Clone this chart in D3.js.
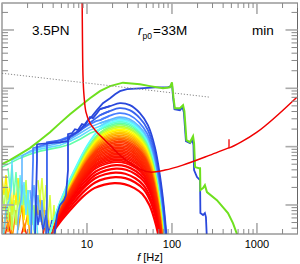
<!DOCTYPE html>
<html>
<head>
<meta charset="utf-8">
<script src="https://cdn.jsdelivr.net/npm/d3@7"></script>
<style>
body { margin: 0; background: #fff; }
svg { display: block; font-family: "Liberation Sans", Arial, sans-serif; }
</style>
</head>
<body>
<svg id="chart" width="300" height="264"></svg>
<script>
// strain in units of 1e-22, frequency in Hz

// detector noise curve
const noiseF = [8.74, 8.85, 8.97, 9.22, 9.73, 10.85, 13.1, 16.3, 19.7, 24.4, 32.1, 42.0, 55.1, 82.7, 134, 280, 456, 481, 1000, 2950]
const noiseH = [710, 66.7, 16.8, 7.6, 3.9, 2.53, 1.77, 1.29, 0.98, 0.715, 0.522, 0.412, 0.366, 0.396, 0.482, 0.715, 0.943, 0.96, 1.77, 7.04]
// narrow line feature on the noise curve
const lineF = [469, 469]
const lineH = [0.95, 1.34]

// total signal (green)
const totalF = [1.0, 1.24, 1.63, 2.13, 2.80, 3.67, 4.81, 6.31, 8.27, 10.85, 14.2, 18.7, 26.5, 42.0, 55.1, 78.4, 94.7, 100, 104, 108,
    124, 135, 140, 148, 163, 177, 182, 187, 208, 214, 216, 232, 244, 258, 338, 456, 522, 582, 631]
const totalH = [0.502, 0.587, 0.744, 0.943, 1.29, 1.77, 2.53, 3.60, 4.94, 6.77, 8.92, 10.9, 12.5, 11.7, 10.9, 10.0, 10.4, 12.7, 7.04, 4.56,
    4.56, 5.13, 4.05, 1.29, 1.19, 1.51, 1.15, 0.446, 0.428, 0.428, 0.180, 0.195, 0.219, 0.166, 0.121, 0.0726, 0.049, 0.0318, 0.025]

// outermost blue spectrum
const outerF = [2.44, 2.51, 2.58, 2.58, 3.67, 4.81, 5.98, 6.31, 7.22, 8.27, 9.47, 10.3, 11.5, 13.1, 15.4, 18.7, 21.4, 24.4, 29.6, 42.0,
    63.1, 89.7, 97.3, 100, 103, 107, 124, 133, 138, 146, 163, 174, 179, 182, 197, 214, 216, 232, 244, 251, 258]
const outerH = [0.025, 0.121, 0.587, 1.10, 1.15, 1.19, 1.24, 1.51, 1.70, 1.92, 2.43, 2.84, 3.33, 4.22, 5.56, 6.77, 7.93, 8.92, 9.65, 10.0,
    10.4, 10.4, 10.9, 12.2, 7.04, 4.39, 4.22, 4.75, 3.90, 1.24, 1.15, 1.29, 1.06, 0.396, 0.301, 0.267, 0.0727, 0.0672, 0.0727, 0.062, 0.025]

// dotted reference line
const dotF = [1, 280]
const dotH = [18.1, 7.04]

// hump shape of the lowest spectrum, relative to its peak
const shapeF = [0.0666, 0.0873, 0.1145, 0.150, 0.1865, 0.2254, 0.2955, 0.4203, 0.5817, 0.7627, 1,
    1.311, 1.719, 2.135, 2.581, 2.955, 3.293, 3.670, 4.090, 4.560, 5.081]
const shapeH = [0.00123, 0.00724, 0.0288, 0.0771, 0.139, 0.2066, 0.3316, 0.5758, 0.8210, 0.9425, 1,
    0.9614, 0.8210, 0.6480, 0.4201, 0.2417, 0.1287, 0.0520, 0.01593, 0.00401, 0.000828]

// peak of every spectrum, from the lowest (red) to the highest (blue)
const peakF = [21, 21.5, 21.5, 22, 22,
    22, 22, 22, 22.3, 22.3, 22.3, 22.5, 22.5, 22.5, 22.7, 22.7, 22.7, 23, 23, 23, 23, 23.2, 23.2, 23.2, 23.4, 23.4, 23.4,
    23.6, 23.6, 23.6, 23.8, 23.8, 23.8, 24, 24, 24,
    24, 24.2, 24.4]
const peakH = [0.237, 0.301, 0.359, 0.420, 0.482,
    0.543, 0.575, 0.611, 0.648, 0.688, 0.730, 0.774, 0.821, 0.871, 0.924, 0.980, 1.04, 1.10, 1.17, 1.24, 1.32, 1.40, 1.48, 1.57, 1.67,
    1.77, 1.88, 1.99, 2.12, 2.24, 2.38, 2.53, 2.68, 2.84, 3.02, 3.20,
    3.75, 4.56, 5.56]

// stepped low frequency tails of the upper spectra [f, h]
const tailB = [[4.09, 0.025], [4.44, 0.0672], [4.81, 0.0996], [5.36, 0.121], [5.66, 0.148], [5.98, 0.396], [5.98, 1.64], [6.66, 1.70],
    [7.22, 1.99], [7.84, 1.92], [8.73, 2.43], [9.47, 2.33], [10.85, 3.20], [11.77, 3.08], [13.1, 3.75], [14.2, 4.39]]
const tailC = [[3.29, 0.025], [3.38, 0.121], [3.38, 1.19], [4.20, 1.24], [5.08, 1.29], [5.98, 1.40], [6.66, 1.51], [7.84, 1.77],
    [8.97, 2.07], [10.28, 2.43], [11.45, 2.73], [12.76, 3.08], [14.2, 3.46]]
const tailD = [[2.19, 0.025], [2.25, 0.121], [2.32, 0.587], [2.32, 0.943], [2.80, 1.02], [3.67, 1.15], [4.81, 1.29], [6.31, 1.51],
    [8.27, 1.92], [10.28, 2.33], [12.76, 2.73], [14.2, 2.84]]
const tailE = [[1.50, 0.025], [1.585, 0.0818], [1.673, 0.121], [1.719, 0.180], [1.719, 0.688], [2.135, 0.838], [2.80, 0.980],
    [3.67, 1.06], [4.81, 1.15], [6.31, 1.34], [8.27, 1.70], [10.85, 2.16], [14.2, 2.53]]
const tailF = [[1.027, 0.025], [1.115, 0.0818], [1.209, 0.121], [1.276, 0.180], [1.311, 0.325], [1.311, 0.587], [1.628, 0.688],
    [2.135, 0.805], [2.80, 0.906], [3.67, 0.980], [4.81, 1.06], [6.31, 1.24], [8.27, 1.51], [10.85, 1.92], [14.2, 2.24]]
const tailG = [[1.0, 0.446], [1.242, 0.522], [1.628, 0.635], [2.135, 0.744], [2.80, 0.838], [3.67, 0.906], [4.81, 0.980],
    [6.31, 1.10], [8.27, 1.34], [10.85, 1.70], [14.2, 1.99]]
const tails = {38: tailB, 37: tailC, 36: tailD, 35: tailE, 34: tailF, 31: tailG}

// noisy low frequency parts of the middle spectra [f, h]
const jagYellow = [[1.00, 0.289], [1.056, 0.148], [1.115, 0.325], [1.177, 0.121], [1.242, 0.247], [1.311, 0.0672], [1.384, 0.219],
    [1.461, 0.0996], [1.543, 0.289], [1.628, 0.0818], [1.719, 0.180], [1.815, 0.0551], [1.916, 0.148], [2.022, 0.0453], [2.135, 0.0996], [2.254, 0.025]]
const jagLime = [[1.00, 0.180], [1.056, 0.0818], [1.115, 0.219], [1.177, 0.0551], [1.242, 0.148], [1.311, 0.0372], [1.384, 0.121],
    [1.461, 0.0453], [1.543, 0.148], [1.628, 0.0672], [1.719, 0.219], [1.815, 0.0996], [1.916, 0.267], [2.022, 0.0672], [2.135, 0.121],
    [2.254, 0.0453], [2.379, 0.0996], [2.512, 0.025]]
const jagOrange = [[1.00, 0.0672], [1.056, 0.025], [1.115, 0.0996], [1.177, 0.0343], [1.242, 0.0755], [1.311, 0.025], [1.461, 0.0818],
    [1.543, 0.0372], [1.719, 0.0996], [1.815, 0.0343], [2.022, 0.0755], [2.135, 0.025]]
const jagCyan = [[1.628, 0.325], [1.719, 0.121], [1.815, 0.247], [1.916, 0.0672], [2.022, 0.180], [2.135, 0.0453], [2.254, 0.121],
    [2.379, 0.0372], [2.512, 0.0818], [2.652, 0.025]]
const jagAqua = [[1.177, 0.428], [1.242, 0.195], [1.311, 0.482], [1.384, 0.148], [1.461, 0.366], [1.543, 0.121], [1.628, 0.289],
    [1.719, 0.0996], [1.815, 0.219], [1.916, 0.0755], [2.022, 0.180], [2.135, 0.0551], [2.254, 0.121], [2.379, 0.0372], [2.512, 0.025]]
const jagAmber = [[2.512, 0.148], [2.652, 0.0672], [2.799, 0.180], [2.955, 0.0453], [3.12, 0.121], [3.29, 0.0318], [3.48, 0.0755], [3.67, 0.025]]
const jagChartreuse = [[2.652, 0.267], [2.799, 0.121], [2.955, 0.289], [3.12, 0.0818], [3.29, 0.219], [3.48, 0.0551], [3.67, 0.148],
    [3.87, 0.0372], [4.09, 0.0996], [4.32, 0.025]]
const jagSky = [[2.135, 0.180], [2.254, 0.0818], [2.379, 0.219], [2.512, 0.0672], [2.652, 0.148], [2.799, 0.0509], [2.955, 0.121],
    [3.12, 0.0402], [3.29, 0.0818], [3.48, 0.025]]
const jagBlue = [[2.512, 0.0996], [2.652, 0.0453], [2.799, 0.0818], [3.037, 0.0372], [3.29, 0.0672], [3.57, 0.0318], [3.87, 0.0551], [4.203, 0.025]]
const jagRed = [[1.056, 0.025], [1.177, 0.0509], [1.311, 0.025], [1.628, 0.025], [1.815, 0.0453], [2.022, 0.025], [2.955, 0.025],
    [3.29, 0.0551], [3.67, 0.025]]

const xLabels = [10, 100, 1000]

// ---------------------------------------------------------------
const svg = d3.select("#chart")
const plot = {left: 2, right: 297.5, top: 3, bottom: 234}

const x = d3.scaleLog().domain([1, 3000]).range([plot.left, plot.right])
const y = d3.scaleLog().domain([0.0318, 290]).range([plot.bottom, plot.top])

svg.append("defs").append("clipPath").attr("id", "clip")
    .append("rect")
    .attr("x", plot.left).attr("y", plot.top)
    .attr("width", plot.right - plot.left).attr("height", plot.bottom - plot.top)

const g = svg.append("g").attr("clip-path", "url(#clip)")

const straight = d3.line().x(d => x(d[0])).y(d => y(d[1]))
const smooth = d3.line().x(d => x(d[0])).y(d => y(d[1])).curve(d3.curveCatmullRom.alpha(0.5))
const zip = (a, b) => a.map((v, i) => [v, b[i]])

// jet-like colours along the family of spectra
const color = d3.scaleLinear()
    .domain([0, 4, 19, 22, 25, 27, 29, 31, 33, 35, 36, 38])
    .range(["#ff0000", "#ff0000", "#ff3c00", "#ff8a00", "#ffcc00", "#ffff00", "#b0ff40", "#60ffa8", "#60ffff", "#60b8ff", "#4a80ff", "#2a48dc"])

// taller spectra get proportionally steeper flanks
const steep = d3.scaleLog().domain([peakH[0], peakH[peakH.length - 1]]).range([1, 2])

// noisy low frequency parts first
const jagged = [
    [jagRed, "#ff2000"], [jagOrange, "#ff9900"], [jagYellow, "#ffee00"], [jagAmber, "#ffc400"],
    [jagLime, "#b8ff50"], [jagChartreuse, "#d8ff40"], [jagAqua, "#70ffb0"], [jagCyan, "#60e8ff"],
    [jagSky, "#5aa8ff"], [jagBlue, "#3050e0"]
]
jagged.forEach(function(j) {
    g.append("path").attr("d", straight(j[0]))
        .attr("fill", "none").attr("stroke", j[1]).attr("stroke-width", 1.5)
})

// the spectra
for (var i = 0; i < peakF.length; i++) {
    var k = steep(peakH[i])
    var pts = shapeF.map((r, j) => [peakF[i] * r, peakH[i] * Math.pow(shapeH[j], k)])
    var tail = tails[i]
    var c = color(i)
    var w = i < 5 ? 2.2 : (i > 35 ? 1.8 : 1.6)
    if (tail) {
        var lastF = tail[tail.length - 1][0]
        pts = pts.filter(p => p[0] > lastF)
        g.append("path").attr("d", straight(tail.concat([pts[0]])))
            .attr("fill", "none").attr("stroke", c).attr("stroke-width", w)
        pts = [tail[tail.length - 1]].concat(pts)
    }
    g.append("path").attr("d", smooth(pts))
        .attr("fill", "none").attr("stroke", c).attr("stroke-width", w)
}

// outer blue
g.append("path").attr("d", straight(zip(outerF, outerH)))
    .attr("fill", "none").attr("stroke", "#2a48dc").attr("stroke-width", 1.8)

// total
g.append("path").attr("d", straight(zip(totalF, totalH)))
    .attr("fill", "none").attr("stroke", "#6ee01e").attr("stroke-width", 2)

// noise
g.append("path").attr("d", smooth(zip(noiseF, noiseH)))
    .attr("fill", "none").attr("stroke", "#f00000").attr("stroke-width", 1.5)
g.append("path").attr("d", straight(zip(lineF, lineH)))
    .attr("fill", "none").attr("stroke", "#f00000").attr("stroke-width", 1.3)

// dotted line
g.append("path").attr("d", straight(zip(dotF, dotH)))
    .attr("fill", "none").attr("stroke", "#888").attr("stroke-width", 1)
    .attr("stroke-dasharray", "1.2,1.8")

// frame and log ticks on all four sides
svg.append("rect")
    .attr("x", plot.left).attr("y", plot.top)
    .attr("width", plot.right - plot.left).attr("height", plot.bottom - plot.top)
    .attr("fill", "none").attr("stroke", "#666").attr("stroke-width", 1)

const isMajor = v => Math.abs(Math.log10(v) - Math.round(Math.log10(v))) < 1e-6
const ticks = svg.append("g")

x.ticks().forEach(function(v) {
    var len = isMajor(v) ? 11 : 5
    var st = isMajor(v) ? "#aaa" : "#888"
    var sw = isMajor(v) ? 1.6 : 1
    ticks.append("line").attr("x1", x(v)).attr("x2", x(v)).attr("y1", plot.bottom).attr("y2", plot.bottom - len)
        .attr("stroke", st).attr("stroke-width", sw)
    ticks.append("line").attr("x1", x(v)).attr("x2", x(v)).attr("y1", plot.top).attr("y2", plot.top + len)
        .attr("stroke", st).attr("stroke-width", sw)
})
y.ticks().forEach(function(v) {
    var len = isMajor(v) ? 12 : 6
    var st = isMajor(v) ? "#aaa" : "#888"
    var sw = isMajor(v) ? 1.6 : 1
    ticks.append("line").attr("y1", y(v)).attr("y2", y(v)).attr("x1", plot.left).attr("x2", plot.left + len)
        .attr("stroke", st).attr("stroke-width", sw)
    ticks.append("line").attr("y1", y(v)).attr("y2", y(v)).attr("x1", plot.right).attr("x2", plot.right - len)
        .attr("stroke", st).attr("stroke-width", sw)
})

// tick labels
svg.selectAll(".xlab").data(xLabels).enter().append("text")
    .attr("class", "xlab")
    .attr("x", d => x(d)).attr("y", 248)
    .attr("text-anchor", "middle").attr("font-size", 11)
    .text(d => d)

// axis title
var title = svg.append("text").attr("x", 150).attr("y", 261).attr("text-anchor", "middle").attr("font-size", 11)
title.append("tspan").attr("font-style", "italic").text("f")
title.append("tspan").text(" [Hz]")

// annotations
svg.append("text").attr("x", 32).attr("y", 35).attr("font-size", 13.5).text("3.5PN")
var rp = svg.append("text").attr("x", 138).attr("y", 35).attr("font-size", 13.5)
rp.append("tspan").attr("font-style", "italic").text("r")
rp.append("tspan").attr("font-size", 8.5).attr("dy", 4).text("p0")
svg.append("text").attr("x", 153).attr("y", 35).attr("font-size", 13.5).text("=33M")
svg.append("text").attr("x", 252).attr("y", 35).attr("font-size", 13.5).text("min")
</script>
</body>
</html>
